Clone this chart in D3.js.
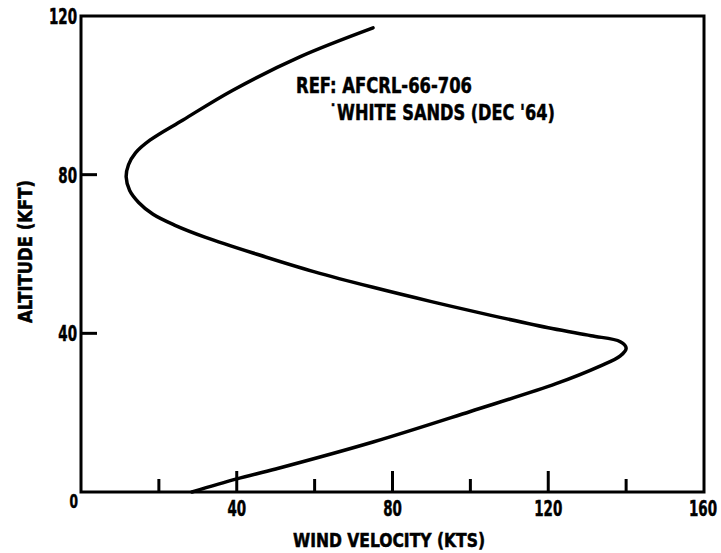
<!DOCTYPE html>
<html><head><meta charset="utf-8">
<script src="https://cdn.jsdelivr.net/npm/d3@7"></script>
<style>
body{margin:0;background:#fff;}
text{font-family:"DejaVu Sans Condensed","DejaVu Sans","Liberation Sans",sans-serif;font-weight:bold;fill:#000;stroke:#000;stroke-width:0.5px;}
</style></head>
<body><svg id="c" width="721" height="553"></svg>
<script>
// Wind velocity (kts) vs altitude (kft), profile
const velocity = [28.5,40,50,75,100,122,133,138.5,140,138.5,131,121,105,90,75,60,45,32,24,18.5,14.8,12.5,11.6,12.2,14,17.7,26.2,39,56.2,75];
const altitude = [0,3.3,5.8,12.6,20.3,27.3,31.6,34.3,36.3,37.9,39.4,41.2,44.6,48.0,51.6,55.5,60.0,64.2,67.3,70.0,73.0,76.0,79.4,82.5,85.5,88.7,93.8,101.3,109.7,117];
const xTickLabels = [0,40,80,120,160];
const yTickLabels = [0,40,80,120];
const xMinorTicks = [20,40,60,80,100,120,140];
const xMajorTicks = [40,80,120];
const yTicks = [40,80];
const xTitle = "WIND VELOCITY (KTS)";
const yTitle = "ALTITUDE (KFT)";
const note1 = "REF:  AFCRL-66-706";
const note2 = "\u02D9WHITE SANDS (DEC '64)";

const svg = d3.select("#c");
const m = {l:81, t:16, r:704, b:492};
const x = d3.scaleLinear().domain([0,160]).range([m.l, m.r]);
const y = d3.scaleLinear().domain([0,120]).range([m.b, m.t]);
const sx = 0.68; // horizontal condensing of tick digits

// frame
svg.append("rect").attr("x",m.l).attr("y",m.t).attr("width",m.r-m.l).attr("height",m.b-m.t)
  .attr("fill","none").attr("stroke","#000").attr("stroke-width",3);

// x ticks (inward)
svg.selectAll("line.xt").data(xMinorTicks).enter().append("line")
  .attr("x1",d=>x(d)).attr("x2",d=>x(d))
  .attr("y1",y(0)).attr("y2",d=>y(0)-(xMajorTicks.includes(d)?21:13))
  .attr("stroke","#000").attr("stroke-width",3);
// y ticks (inward)
svg.selectAll("line.yt").data(yTicks).enter().append("line")
  .attr("x1",x(0)).attr("x2",x(0)+16)
  .attr("y1",d=>y(d)).attr("y2",d=>y(d))
  .attr("stroke","#000").attr("stroke-width",3);

// x tick labels
svg.selectAll("text.xl").data(xTickLabels.filter(d=>d>0)).enter().append("text")
  .attr("transform",d=>`translate(${d===160 ? x(d)-1 : x(d)},${y(0)+24}) scale(${sx},1)`)
  .attr("text-anchor","middle").attr("font-size",22).text(d=>d);
// y tick labels
svg.selectAll("text.yl").data(yTickLabels.filter(d=>d>0)).enter().append("text")
  .attr("transform",d=>`translate(${x(0)-4},${y(d)+8}) scale(${sx},1)`)
  .attr("text-anchor","end").attr("font-size",22).text(d=>d);
// zero label
svg.append("text").attr("transform",`translate(${x(0)-3},${y(0)+16}) scale(${sx},1)`)
  .attr("text-anchor","end").attr("font-size",20).text(xTickLabels[0]);

// titles
svg.append("text").attr("x",293).attr("y",547).attr("font-size",19)
  .attr("textLength",192).attr("lengthAdjust","spacingAndGlyphs").text(xTitle);
svg.append("text").attr("transform","translate(32,323) rotate(-90)")
  .attr("font-size",19).attr("textLength",143).attr("lengthAdjust","spacingAndGlyphs").text(yTitle);

// annotation
svg.append("text").attr("x",296).attr("y",93).attr("font-size",22)
  .attr("textLength",176).attr("lengthAdjust","spacingAndGlyphs").text(note1);
svg.append("text").attr("x",329).attr("y",120).attr("font-size",22)
  .attr("textLength",226).attr("lengthAdjust","spacingAndGlyphs").text(note2);

// curve
const pts = velocity.map((v,i)=>[v, altitude[i]]);
const line = d3.line().x(d=>x(d[0])).y(d=>y(d[1])).curve(d3.curveCatmullRom.alpha(0.5));
svg.append("path").datum(pts).attr("d",line).attr("fill","none")
  .attr("stroke","#000").attr("stroke-width",3.5).attr("stroke-linejoin","round").attr("stroke-linecap","round");
</script></body></html>
